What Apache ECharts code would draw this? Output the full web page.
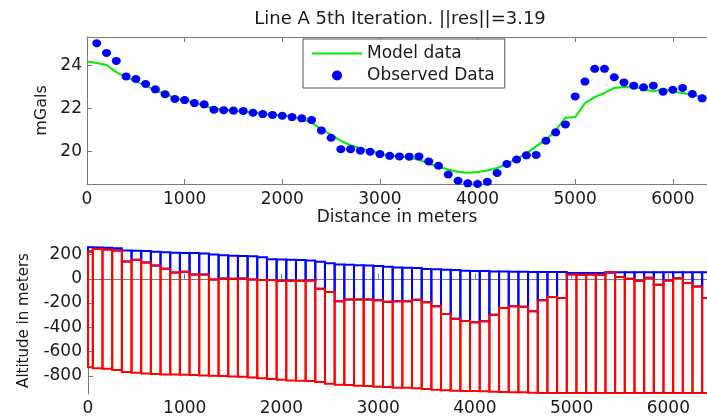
<!DOCTYPE html>
<html>
<head>
<meta charset="utf-8">
<script src="https://cdn.jsdelivr.net/npm/echarts@6/dist/echarts.min.js"></script>
<style>
html,body{margin:0;padding:0;background:#fff;}
#chart{width:707px;height:417px;}
</style>
</head>
<body>
<div id="chart"></div>
<script>
// ---------- data ----------
const titleText = 'Line A 5th Iteration. ||res||=3.19';
const obsX = [100,200,300,400,500,600,700,800,900,1000,1100,1200,1300,1400,1500,1600,1700,1800,1900,2000,2100,2200,2300,2400,2500,2600,2700,2800,2900,3000,3100,3200,3300,3400,3500,3600,3700,3800,3900,4000,4100,4200,4300,4400,4500,4600,4700,4800,4900,5000,5100,5200,5300,5400,5500,5600,5700,5800,5900,6000,6100,6200,6300];
const observed = [25.04,24.59,24.22,23.50,23.38,23.15,22.90,22.67,22.45,22.40,22.26,22.20,21.95,21.93,21.91,21.89,21.81,21.75,21.71,21.67,21.61,21.55,21.47,20.99,20.65,20.12,20.12,20.05,20.00,19.89,19.81,19.78,19.77,19.78,19.55,19.35,18.94,18.65,18.53,18.50,18.60,19.01,19.43,19.64,19.83,19.85,20.51,20.90,21.27,22.57,23.26,23.85,23.85,23.46,23.22,23.07,22.99,23.07,22.79,22.88,22.96,22.68,22.48];
const modelX = [0,100,200,300,400,500,600,700,800,900,1000,1100,1200,1300,1400,1500,1600,1700,1800,1900,2000,2100,2200,2300,2400,2500,2600,2700,2800,2900,3000,3100,3200,3300,3400,3500,3600,3700,3800,3900,4000,4100,4200,4300,4400,4500,4600,4700,4800,4900,5000,5100,5200,5300,5400,5500,5600,5700,5800,5900,6000,6100,6200,6300,6400];
const model = [24.19,24.12,24.03,23.70,23.47,23.27,23.07,22.86,22.68,22.50,22.39,22.28,22.15,22.01,21.95,21.92,21.88,21.82,21.77,21.72,21.68,21.62,21.52,21.35,21.05,20.78,20.50,20.30,20.15,20.05,19.90,19.82,19.78,19.72,19.62,19.45,19.30,19.17,19.07,19.02,19.06,19.13,19.24,19.43,19.67,19.91,20.25,20.56,20.99,21.58,21.61,22.26,22.54,22.73,22.96,23.01,22.98,22.92,22.80,22.92,22.79,22.73,22.65,22.53,22.45];

const prismX = modelX;
const prismWidth = 100;
const topo = [260,258,256,252,234,232,230,222,218,215,213,212,208,200,195,190,188,186,178,160,158,156,155,150,140,129,118,116,112,110,105,100,92,90,88,80,79,74,72,66,65,64,60,59,57,57,56,56,56,55,48,48,48,48,50,54,54,54,54,54,54,54,54,54,54];
const prismTop = [224,246,241,233,142,156,134,109,82,52,57,35,35,-6,2,0,3,-6,-11,-11,-16,-16,-19,-14,-82,-110,-186,-170,-170,-170,-178,-189,-186,-186,-172,-194,-227,-290,-329,-348,-359,-351,-296,-241,-227,-230,-268,-178,-151,-159,36,33,35,33,55,14,0,-16,8,-49,-14,6,-35,-63,-159];
const prismBottom = [-730,-737,-742,-753,-769,-775,-780,-786,-789,-789,-791,-794,-797,-799,-802,-806,-808,-813,-821,-827,-832,-838,-840,-843,-851,-865,-873,-876,-881,-884,-890,-893,-898,-899,-903,-909,-915,-920,-923,-926,-926,-928,-931,-934,-936,-936,-939,-941,-941,-941,-941,-941,-941,-941,-941,-941,-941,-941,-941,-941,-941,-941,-941,-941,-941];

const gTicks = [20, 22, 24];
const altTicks = [-800, -600, -400, -200, 0, 200];

// ---------- chart ----------
const chart = echarts.init(document.getElementById('chart'), null, {renderer: 'canvas'});
const FONT = 'DejaVu Sans';
const axisGray = '#7a7a7a';
const textColor = '#1a1a1a';
const plain = v => String(v);

function prismRender(color) {
  return function (params, api) {
    const c = api.value(0), t = api.value(1), b = api.value(2);
    const p1 = api.coord([c - prismWidth / 2, t]);
    const p2 = api.coord([c + prismWidth / 2, b]);
    const cs = params.coordSys;
    let x0 = Math.min(p1[0], p2[0]), x1 = Math.max(p1[0], p2[0]);
    let y0 = Math.min(p1[1], p2[1]), y1 = Math.max(p1[1], p2[1]);
    x0 = Math.max(x0, cs.x);
    x1 = Math.min(x1, cs.x + cs.width + 10);
    return {
      type: 'rect',
      shape: {x: x0, y: y0, width: x1 - x0, height: y1 - y0},
      style: {fill: 'none', stroke: color, lineWidth: 2}
    };
  };
}

const blueData = prismX.map((x, i) => [x, topo[i], prismTop[i]]);
const redData = prismX.map((x, i) => [x, prismTop[i], prismBottom[i]]);

const option = {
  animation: false,
  backgroundColor: '#fff',
  textStyle: {fontFamily: FONT},
  graphic: [{
    type: 'text', x: 400, y: 19,
    style: {text: titleText, textAlign: 'center', textVerticalAlign: 'middle',
      font: '18px "DejaVu Sans"', fill: textColor}
  }],
  legend: {
    orient: 'vertical', left: 303, top: 39,
    backgroundColor: '#fff',
    borderColor: '#555', borderWidth: 1, borderRadius: 0,
    padding: [6, 10, 4, 8], itemGap: 5, itemWidth: 50, itemHeight: 10,
    textStyle: {fontSize: 17, color: textColor, fontFamily: FONT},
    data: [{name: 'Model data', itemStyle: {opacity: 0}}, {name: 'Observed Data'}]
  },
  grid: [
    {left: 87, top: 37, right: -1, height: 147},
    {left: 88, top: 247, right: -1, height: 148}
  ],
  xAxis: [
    {gridIndex: 0, type: 'value', min: 0, max: 6350, interval: 1000,
      name: 'Distance in meters', nameLocation: 'middle', nameGap: 22,
      nameTextStyle: {fontSize: 17, color: textColor},
      axisLine: {lineStyle: {color: axisGray}},
      axisTick: {inside: true, length: 5, lineStyle: {color: axisGray}},
      axisLabel: {fontSize: 17, color: textColor, margin: 7, showMaxLabel: false, formatter: plain},
      splitLine: {show: false}},
    {gridIndex: 0, type: 'value', position: 'top', min: 0, max: 6350, interval: 1000,
      axisLine: {lineStyle: {color: axisGray}},
      axisTick: {inside: true, length: 5, lineStyle: {color: axisGray}},
      axisLabel: {show: false}, splitLine: {show: false}},
    {gridIndex: 1, type: 'value', min: 0, max: 6400, interval: 1000,
      axisLine: {lineStyle: {color: axisGray}},
      axisTick: {inside: true, length: 5, lineStyle: {color: axisGray}},
      axisLabel: {fontSize: 17, color: textColor, margin: 6, showMaxLabel: false, formatter: plain},
      splitLine: {show: false}}
  ],
  yAxis: [
    {gridIndex: 0, type: 'value', min: 18.5, max: 25.33,
      name: 'mGals', nameLocation: 'middle', nameGap: 35,
      nameTextStyle: {fontSize: 16, color: textColor},
      axisLine: {show: true, lineStyle: {color: axisGray}},
      axisTick: {show: true, inside: true, length: 5, customValues: gTicks, lineStyle: {color: axisGray}},
      axisLabel: {fontSize: 17, color: textColor, margin: 5, customValues: gTicks, formatter: plain},
      splitLine: {show: false}},
    {gridIndex: 1, type: 'value', min: -950, max: 262,
      name: 'Altitude in meters', nameLocation: 'middle', nameGap: 56,
      nameTextStyle: {fontSize: 15, color: textColor},
      axisLine: {show: true, lineStyle: {color: axisGray}},
      axisTick: {show: true, inside: true, length: 5, customValues: altTicks, lineStyle: {color: axisGray}},
      axisLabel: {fontSize: 17, color: textColor, margin: 6, customValues: altTicks, formatter: plain},
      splitLine: {show: false}}
  ],
  series: [
    {name: 'Model data', type: 'line', xAxisIndex: 0, yAxisIndex: 0,
      data: modelX.map((x, i) => [x, model[i]]),
      symbol: 'none', lineStyle: {color: '#00ee00', width: 2}, itemStyle: {color: '#00ee00'},
      z: 2},
    {name: 'Observed Data', type: 'scatter', xAxisIndex: 0, yAxisIndex: 0,
      data: obsX.map((x, i) => [x, observed[i]]),
      symbol: 'circle', symbolSize: [9, 8], itemStyle: {color: '#0000ff', opacity: 1},
      z: 3},
    {name: 'blue', type: 'custom', xAxisIndex: 2, yAxisIndex: 1,
      data: blueData, encode: {x: 0, y: [1, 2]},
      renderItem: prismRender('#0000ff'), z: 2},
    {name: 'red', type: 'custom', xAxisIndex: 2, yAxisIndex: 1,
      data: redData, encode: {x: 0, y: [1, 2]},
      renderItem: prismRender('#ff0000'), z: 3}
  ]
};
chart.setOption(option);
</script>
</body>
</html>
